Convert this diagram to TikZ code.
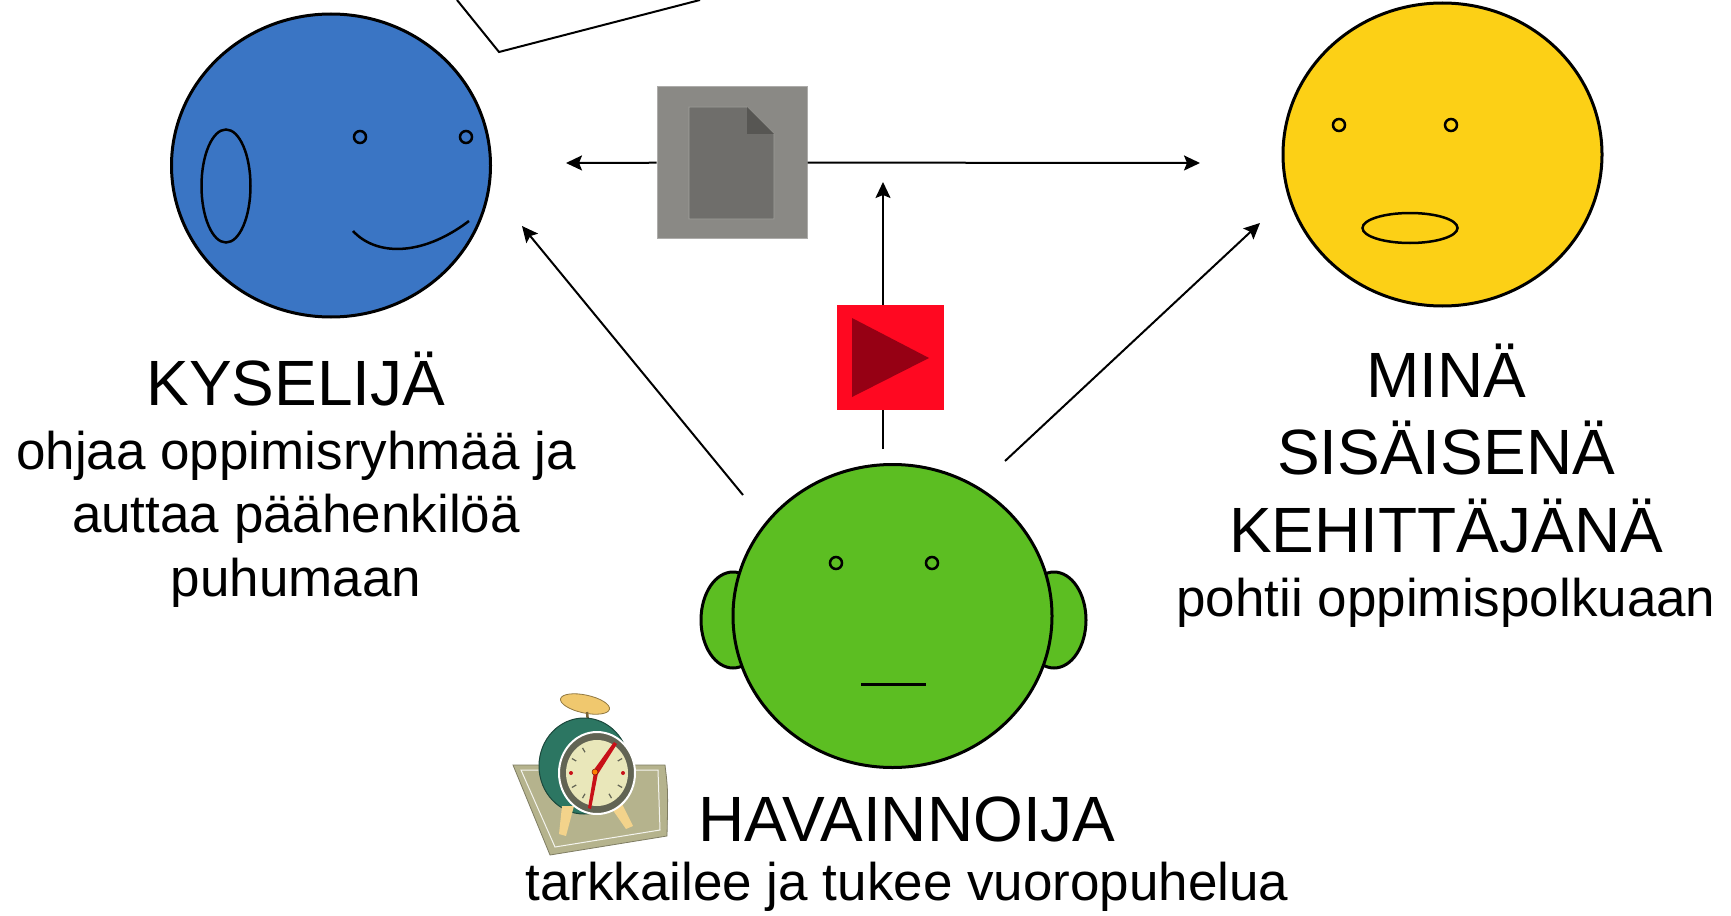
\documentclass[tikz,border=0pt]{standalone}
\usepackage{fontspec}
\setmainfont{Liberation Sans}
\usetikzlibrary{positioning, arrows.meta, shapes, calc}

\definecolor{kysBlue}{RGB}{58,117,196}
\definecolor{minaYellow}{RGB}{252,208,22}
\definecolor{havGreen}{RGB}{92,190,34}
\definecolor{docBox}{RGB}{138,137,133}
\definecolor{docPage}{RGB}{111,110,107}
\definecolor{docFold}{RGB}{87,86,83}
\definecolor{playBox}{RGB}{255,8,33}
\definecolor{playTri}{RGB}{150,0,20}
\definecolor{clockBase}{RGB}{181,179,141}
\definecolor{clockTeal}{RGB}{44,118,98}
\definecolor{clockRim}{RGB}{98,100,84}
\definecolor{clockFace}{RGB}{233,231,186}
\definecolor{clockRed}{RGB}{200,16,24}
\definecolor{clockBell}{RGB}{240,200,110}

\begin{document}
\begin{tikzpicture}[x=1pt, y=-1pt,
	face/.style={ellipse, draw, line width=3pt, minimum width=319pt, minimum height=303pt, inner sep=0pt},
	eye/.style={circle, draw, line width=2.5pt, minimum size=12pt, inner sep=0pt},
	conn/.style={line width=2pt, -{Stealth[length=16pt, width=15pt, inset=3pt]}},
	title/.style={font=\fontsize{64}{77.5}\selectfont, align=center, anchor=base, inner sep=0pt},
	sub/.style={font=\fontsize{53}{63.5}\selectfont, align=center, anchor=base, inner sep=0pt}]
	\useasboundingbox[fill=white] (0,0) rectangle (1731,915);

	% kyselija
	\node[face, fill=kysBlue] (kys) at (331,165.5) {};
	\node[ellipse, draw, line width=2.5pt, minimum width=49pt, minimum height=113pt, inner sep=0pt] (kysEar) at (226,186) {};
	\node[eye] (kysEyeL) at (360,137) {};
	\node[eye] (kysEyeR) at (466,137) {};
	\draw[line width=2.5pt] (353,231) .. controls (375,255) and (420,258) .. (469,221);

	% mina
	\node[face, fill=minaYellow] (mina) at (1442.5,154.5) {};
	\node[eye] (minaEyeL) at (1339,125) {};
	\node[eye] (minaEyeR) at (1451,125) {};
	\node[ellipse, draw, line width=2.5pt, minimum width=95pt, minimum height=30pt, inner sep=0pt] (minaMouth) at (1410,228) {};

	% havainnoija
	\node[ellipse, draw, line width=3pt, fill=havGreen, minimum width=64pt, minimum height=96pt] (havEarL) at (733,620) {};
	\node[ellipse, draw, line width=3pt, fill=havGreen, minimum width=64pt, minimum height=96pt] (havEarR) at (1054,620) {};
	\node[face, fill=havGreen] (hav) at (892.5,616) {};
	\node[eye] (havEyeL) at (836,563) {};
	\node[eye] (havEyeR) at (932,563) {};
	\draw[line width=3pt] (861,684) -- (926,684);

	\draw[line width=2pt] (457,0) -- (499,52) -- (700,0);

	\coordinate (kysIn) at (566,163);
	\coordinate (minaIn) at (1200,163);
	\coordinate (havTop) at (883,449);
	\coordinate (docIn) at (883,182);
	\coordinate (havLeft) at (743,495);
	\coordinate (kysOut) at (522,226);
	\coordinate (havRight) at (1005,461);
	\coordinate (minaOut) at (1260,223);

	\draw[conn] (havTop) -- (docIn);
	\draw[conn] (havLeft) -- (kysOut);
	\draw[conn] (havRight) -- (minaOut);

	\node[draw=docBox!70!white, line width=1pt, fill=docBox, minimum width=150pt, minimum height=151pt] (doc) at (732,162.5) {};
	\draw[conn] (doc) -- (kysIn);
	\draw[conn] (doc) -- (minaIn);
	\begin{scope}[shift={(doc.center)}]
		\filldraw[fill=docPage, draw=docBox!80!white, line width=0.8pt] (-43,-55.5) -- (15,-55.5) -- (42,-28.5) -- (42,56.5) -- (-43,56.5) -- cycle;
		\fill[docFold] (15,-55.5) -- (42,-28.5) -- (15,-28.5) -- cycle;
	\end{scope}

	\node[fill=playBox, minimum width=107pt, minimum height=105pt] (play) at (890.5,357.5) {};
	\fill[playTri, shift={(play.center)}] (-38.5,-39.5) -- (38.5,0.5) -- (-38.5,39.5) -- cycle;

	% texts
	\node[title] (kysTitle) at (296,405) {KYSELIJÄ};
	\node[sub] (kysText) at ([yshift=-191pt]kysTitle.base) {ohjaa oppimisryhmää ja\\auttaa päähenkilöä\\puhumaan};
	\node[title] (minaTitle) at (1446,552) {MINÄ\\SISÄISENÄ\\KEHITTÄJÄNÄ};
	\node[sub] (minaText) at ([yshift=-64pt]minaTitle.base) {pohtii oppimispolkuaan};
	\node[title] (havTitle) at (907,841) {HAVAINNOIJA};
	\node[sub] (havText) at ([yshift=-59pt]havTitle.base) {tarkkailee ja tukee vuoropuhelua};

	% kello
	\filldraw[fill=clockBase, draw=clockBase!70!black, line width=0.8pt] (513,765) -- (665,765) .. controls (668,790) .. (667,836) -- (550,855) -- cycle;
	\draw[white!85!clockBase, line width=1pt] (521,770) -- (658,770) -- (660,830) -- (555,847) -- cycle;
	\filldraw[fill=clockBell, draw=clockBell!60!black, line width=0.8pt, rotate around={-12:(585,704)}] (585,704) ellipse (25 and 9);
	\draw[clockBell!50!black, line width=2.5pt] (587,712) -- (588,722);
	\filldraw[fill=clockTeal, draw=clockTeal!60!black, line width=1pt] (584,766) ellipse (45 and 48);
	\fill[clockBell!80!white] (562,806) -- (574,806) -- (566,836) -- (559,834) -- cycle;
	\fill[clockBell!80!white] (610,806) -- (622,804) -- (633,826) -- (626,829) -- cycle;
	\filldraw[fill=clockRim, draw=white, line width=2pt] (597,773) ellipse (38 and 41);
	\fill[clockFace] (597,773) ellipse (31 and 33);
	\foreach \a in {30,60,120,150,210,240,300,330}
		\draw[clockRim, line width=1.2pt] ($(597,773)+(\a:24)$) -- ($(597,773)+(\a:29)$);
	\fill[clockRed] (571,773) circle (2) (623,773) circle (2);
	\fill[clockRed] (593,771) -- (614,742) -- (617,744) -- (598,774) -- cycle;
	\fill[clockRed] (594,772) -- (598,773) -- (591,809) -- (588,808) -- cycle;
	\filldraw[fill=orange, draw=clockRed!60!black, line width=0.5pt] (595,772) circle (3);
\end{tikzpicture}
\end{document}
